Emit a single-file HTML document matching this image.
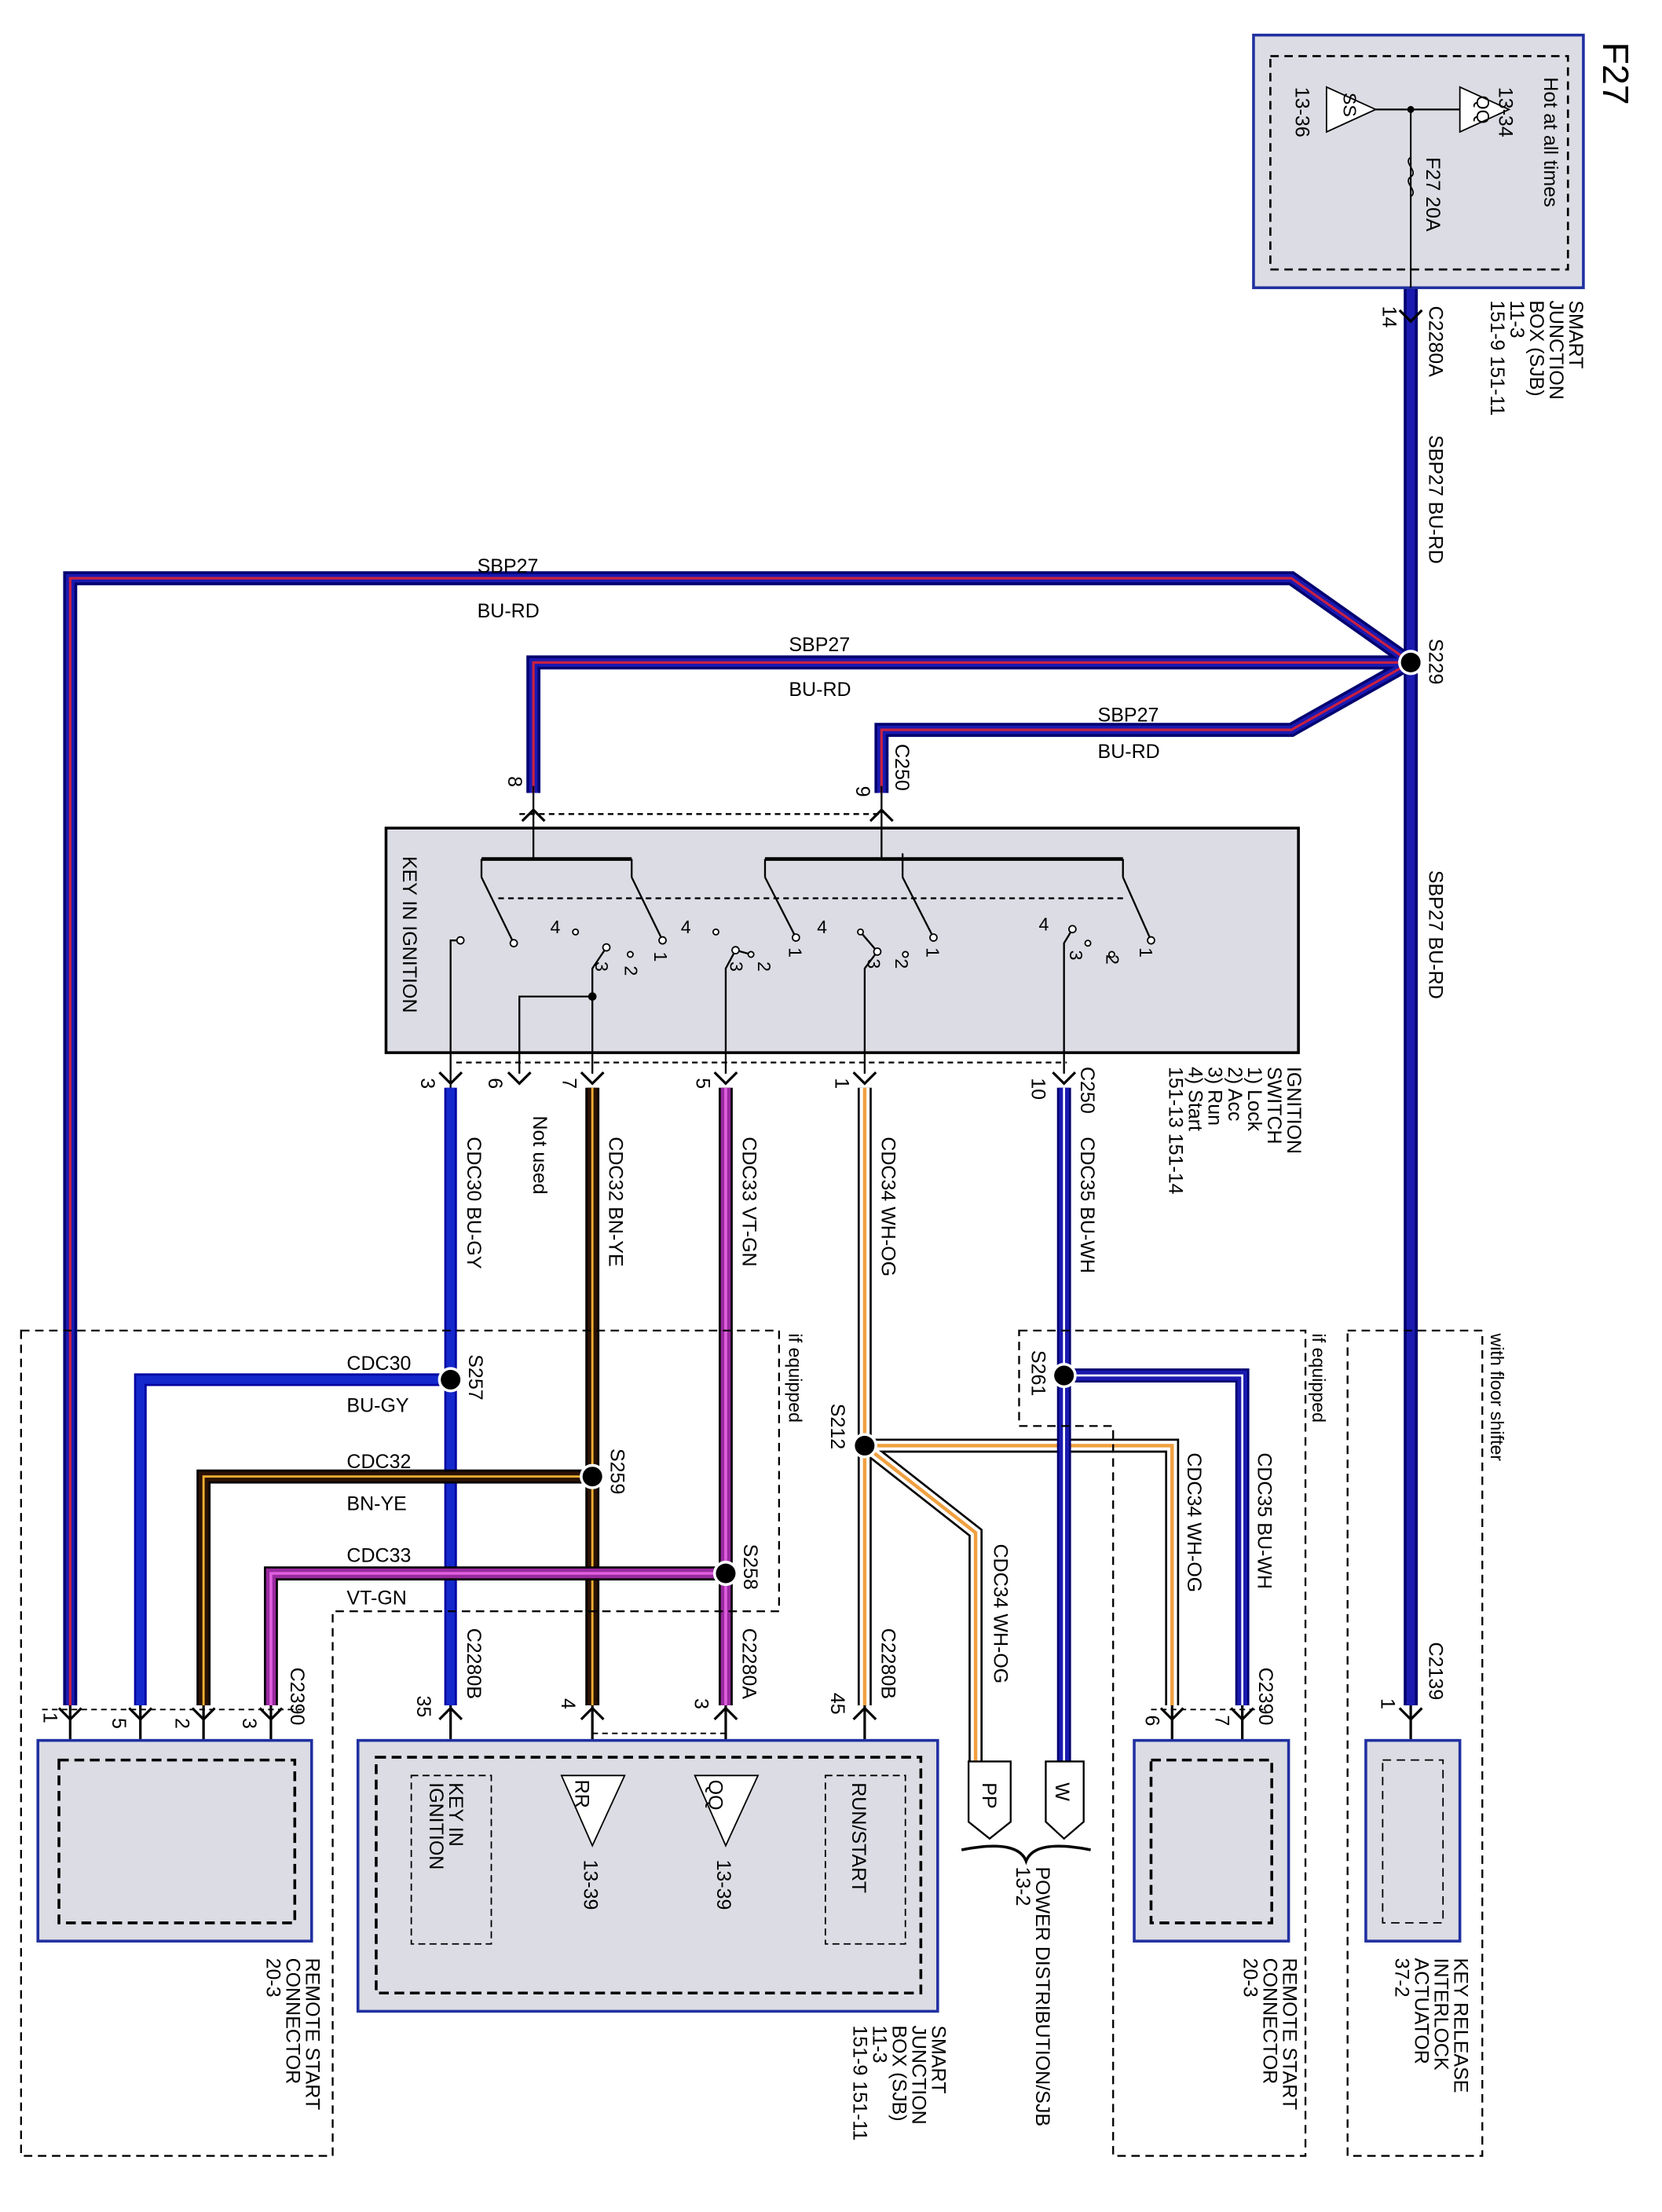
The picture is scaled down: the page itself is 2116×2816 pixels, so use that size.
<!DOCTYPE html>
<html><head><meta charset="utf-8"><style>
html,body{margin:0;padding:0;background:#fff}
svg{display:block}
text{font-family:"Liberation Sans",sans-serif;fill:#000}
</style></head><body>
<svg width="2116" height="2816" viewBox="0 0 1184 1576" preserveAspectRatio="none" xmlns="http://www.w3.org/2000/svg">
<defs>
<path id="wA" d="M1005,205 V1215"/>
<path id="wB" d="M1005,472 L920,412 H50 V1215"/>
<path id="wC" d="M1005,472 H380 V565"/>
<path id="wD" d="M1005,472 L920,520 H628 V565"/>
<path id="w30" d="M321,775 V1215"/>
<path id="w30b" d="M321,983 H100 V1215"/>
<path id="w32" d="M422,775 V1215"/>
<path id="w32b" d="M422,1052 H145 V1215"/>
<path id="w33" d="M517,775 V1215"/>
<path id="w33b" d="M517,1121 H193 V1215"/>
<path id="w34" d="M616,775 V1215"/>
<path id="w34b" d="M616,1030 H835 V1215"/>
<path id="w34c" d="M616,1030 L695,1092 V1255"/>
<path id="w35" d="M758,775 V1255"/>
<path id="w35b" d="M758,980 H885 V1215"/>
</defs>
<g fill="none" stroke-linejoin="miter">
<!-- BU-RD -->
<g stroke="#000070" stroke-width="10"><use href="#wA"/><use href="#wB"/><use href="#wC"/><use href="#wD"/></g>
<g stroke="#1a1ab0" stroke-width="6"><use href="#wA"/><use href="#wB"/><use href="#wC"/><use href="#wD"/></g>
<g stroke="#c82040" stroke-width="1.8"><use href="#wB"/><use href="#wC"/><use href="#wD"/></g>
<!-- BU-GY -->
<g stroke="#0000a0" stroke-width="9"><use href="#w30"/><use href="#w30b"/></g>
<g stroke="#1428cc" stroke-width="6"><use href="#w30"/><use href="#w30b"/></g>
<!-- BN-YE -->
<g stroke="#000" stroke-width="10"><use href="#w32"/><use href="#w32b"/></g>
<g stroke="#2a1206" stroke-width="7"><use href="#w32"/><use href="#w32b"/></g>
<g stroke="#f0b030" stroke-width="1.6"><use href="#w32"/><use href="#w32b"/></g>
<!-- VT-GN -->
<g stroke="#000" stroke-width="10"><use href="#w33"/><use href="#w33b"/></g>
<g stroke="#9a2aa0" stroke-width="7"><use href="#w33"/><use href="#w33b"/></g>
<g stroke="#e060e0" stroke-width="2"><use href="#w33"/><use href="#w33b"/></g>
<!-- WH-OG -->
<g stroke="#000" stroke-width="10"><use href="#w34"/><use href="#w34b"/><use href="#w34c"/></g>
<g stroke="#fff" stroke-width="7"><use href="#w34"/><use href="#w34b"/><use href="#w34c"/></g>
<g stroke="#f0a040" stroke-width="2.5"><use href="#w34"/><use href="#w34b"/><use href="#w34c"/></g>
<!-- BU-WH -->
<g stroke="#000070" stroke-width="10"><use href="#w35"/><use href="#w35b"/></g>
<g stroke="#1a1ab0" stroke-width="7"><use href="#w35"/><use href="#w35b"/></g>
<g stroke="#fff" stroke-width="1.5"><use href="#w35"/><use href="#w35b"/></g>
</g>

<!-- top SJB box -->
<rect x="893" y="25" width="235" height="180" fill="#dcdce4" stroke="#2030a0" stroke-width="2"/>
<rect x="905" y="40" width="212" height="152" fill="none" stroke="#000" stroke-width="1.5" stroke-dasharray="6,4"/>
<path d="M1005,78 V205 M962,78 H1048" stroke="#000" stroke-width="1.2" fill="none"/>
<circle cx="1005" cy="78" r="2.5" fill="#000"/>
<path d="M1040,62 L1075,78 L1040,94 Z M945,62 L980,78 L945,94 Z" fill="#fff" stroke="#000"/>
<path d="M1005,112 c-6,4 6,10 0,14 c-6,4 6,10 0,14" fill="none" stroke="#000"/>
<text transform="translate(1100,55) rotate(90)" font-size="14">Hot at all times</text>
<text transform="translate(1068,62) rotate(90)" font-size="14">13-34</text>
<text transform="translate(1052,68) rotate(90)" font-size="13">QQ</text>
<text transform="translate(957,66) rotate(90)" font-size="13">SS</text>
<text transform="translate(923,62) rotate(90)" font-size="14">13-36</text>
<text transform="translate(1016,112) rotate(90)" font-size="14">F27  20A</text>
<text transform="translate(1142,30) rotate(90)" font-size="26">F27</text>
<text transform="translate(1118,214) rotate(90)" font-size="14">SMART</text>
<text transform="translate(1104,214) rotate(90)" font-size="14">JUNCTION</text>
<text transform="translate(1090,214) rotate(90)" font-size="14">BOX (SJB)</text>
<text transform="translate(1076,214) rotate(90)" font-size="14">11-3</text>
<text transform="translate(1062,214) rotate(90)" font-size="14">151-9     151-11</text>
<text transform="translate(1018,218) rotate(90)" font-size="14">C2280A</text>
<text transform="translate(985,218) rotate(90)" font-size="14">14</text>
<text transform="translate(1018,310) rotate(90)" font-size="14">SBP27    BU-RD</text>
<text transform="translate(1018,455) rotate(90)" font-size="14">S229</text>
<text transform="translate(1018,620) rotate(90)" font-size="14">SBP27    BU-RD</text>
<circle cx="1005" cy="472" r="9" fill="#fff"/>
<circle cx="1005" cy="472" r="7" fill="#000"/>

<text x="340" y="408" font-size="14">SBP27</text><text x="340" y="440" font-size="14">BU-RD</text>
<text x="562" y="464" font-size="14">SBP27</text><text x="562" y="496" font-size="14">BU-RD</text>
<text x="782" y="514" font-size="14">SBP27</text><text x="782" y="540" font-size="14">BU-RD</text>

<!-- ignition box -->
<rect x="275" y="590" width="650" height="160" fill="#dcdce4" stroke="#000" stroke-width="2"/>
<path d="M380,560 V612 M628,560 V612" stroke="#000" stroke-width="1.3" fill="none"/>
<path d="M343,612 H450 M545,612 H800" stroke="#000" stroke-width="2.6" fill="none"/>
<path d="M343,612 V625 M450,612 V625 M545,612 V625 M800,612 V625 M643,608 V625" stroke="#000" stroke-width="1.3" fill="none"/>
<path d="M355,640 H800 M370,580 H628" stroke="#000" stroke-dasharray="4,3" fill="none" stroke-width="1.3"/>
<path d="M325,757 H760" stroke="#000" stroke-dasharray="4,3" fill="none" stroke-width="1.3"/>
<g stroke="#000" stroke-width="1.3" fill="none">
<path d="M343,625 L366,672 M450,625 L472,670 M545,625 L567,668 M643,625 L665,668 M800,625 L820,670"/>
<path d="M321,775 V670 H328 M370,765 V710 H422 M422,765 V690 L432,675 M517,765 V690 L524,677 L535,680 M616,765 V690 L625,678 L613,664 M758,765 V672 L764,662"/>
</g>
<g fill="#fff" stroke="#000">
<circle cx="328" cy="670" r="2.5"/><circle cx="366" cy="672" r="2.5"/><circle cx="472" cy="670" r="2.5"/><circle cx="567" cy="668" r="2.5"/><circle cx="665" cy="668" r="2.5"/><circle cx="820" cy="670" r="2.5"/><circle cx="432" cy="675" r="2.5"/><circle cx="524" cy="677" r="2.5"/><circle cx="625" cy="678" r="2.5"/><circle cx="764" cy="662" r="2.5"/><circle cx="410" cy="664" r="2"/><circle cx="510" cy="664" r="2"/><circle cx="613" cy="664" r="2"/><circle cx="449" cy="680" r="2"/><circle cx="535" cy="680" r="2"/><circle cx="645" cy="680" r="2"/><circle cx="792" cy="680" r="2"/><circle cx="775" cy="672" r="2"/>
</g>
<circle cx="422" cy="710" r="3" fill="#000"/>
<text transform="translate(287,610) rotate(90)" font-size="14">KEY IN IGNITION</text>
<g font-size="13">
<text x="392" y="665">4</text><text x="485" y="665">4</text><text x="582" y="665">4</text><text x="740" y="663">4</text>
<text transform="translate(424,685) rotate(90)">3</text><text transform="translate(520,685) rotate(90)">3</text><text transform="translate(618,683) rotate(90)">3</text><text transform="translate(762,677) rotate(90)">3</text>
<text transform="translate(445,688) rotate(90)">2</text><text transform="translate(540,685) rotate(90)">2</text><text transform="translate(638,683) rotate(90)">2</text><text transform="translate(788,680) rotate(90)">2</text>
<text transform="translate(466,678) rotate(90)">1</text><text transform="translate(562,675) rotate(90)">1</text><text transform="translate(660,675) rotate(90)">1</text><text transform="translate(812,675) rotate(90)">1</text>
</g>
<text transform="translate(362,553) rotate(90)" font-size="14">8</text>
<text transform="translate(610,560) rotate(90)" font-size="14">9</text>
<text transform="translate(638,530) rotate(90)" font-size="14">C250</text>
<g font-size="14">
<text transform="translate(917,760) rotate(90)">IGNITION</text>
<text transform="translate(903,760) rotate(90)">SWITCH</text>
<text transform="translate(889,760) rotate(90)">1) Lock</text>
<text transform="translate(875,760) rotate(90)">2) Acc</text>
<text transform="translate(861,760) rotate(90)">3) Run</text>
<text transform="translate(847,760) rotate(90)">4) Start</text>
<text transform="translate(833,760) rotate(90)">151-13     151-14</text>
<text transform="translate(770,760) rotate(90)">C250</text>
<text transform="translate(300,768) rotate(90)">3</text>
<text transform="translate(348,768) rotate(90)">6</text>
<text transform="translate(401,768) rotate(90)">7</text>
<text transform="translate(496,768) rotate(90)">5</text>
<text transform="translate(595,768) rotate(90)">1</text>
<text transform="translate(735,768) rotate(90)">10</text>
<text transform="translate(333,810) rotate(90)">CDC30   BU-GY</text>
<text transform="translate(380,795) rotate(90)">Not used</text>
<text transform="translate(434,810) rotate(90)">CDC32   BN-YE</text>
<text transform="translate(529,810) rotate(90)">CDC33   VT-GN</text>
<text transform="translate(628,810) rotate(90)">CDC34   WH-OG</text>
<text transform="translate(770,810) rotate(90)">CDC35   BU-WH</text>
</g>
<!-- dashed regions -->
<g fill="none" stroke="#000" stroke-dasharray="6,4" stroke-width="1.3">
<path d="M15,948 H555 V1148 H237 V1536 H15 Z"/>
<path d="M726,948 H930 V1536 H793 V1016 H726 Z"/>
<rect x="960" y="948" width="96" height="588"/>
</g>
<text transform="translate(562,950) rotate(90)" font-size="13">if equipped</text>
<text transform="translate(935,950) rotate(90)" font-size="13">if equipped</text>
<text transform="translate(1062,950) rotate(90)" font-size="13">with floor shifter</text>
<!-- splices -->
<g fill="#fff"><circle cx="321" cy="983" r="9"/><circle cx="422" cy="1052" r="9"/><circle cx="517" cy="1121" r="9"/><circle cx="616" cy="1030" r="9"/><circle cx="758" cy="980" r="9"/></g>
<g fill="#000"><circle cx="321" cy="983" r="7"/><circle cx="422" cy="1052" r="7"/><circle cx="517" cy="1121" r="7"/><circle cx="616" cy="1030" r="7"/><circle cx="758" cy="980" r="7"/></g>
<g font-size="14">
<text transform="translate(334,965) rotate(90)">S257</text>
<text transform="translate(435,1032) rotate(90)">S259</text>
<text transform="translate(530,1100) rotate(90)">S258</text>
<text transform="translate(592,1000) rotate(90)">S212</text>
<text transform="translate(735,962) rotate(90)">S261</text>
<text x="247" y="976">CDC30</text><text x="247" y="1006">BU-GY</text>
<text x="247" y="1046">CDC32</text><text x="247" y="1076">BN-YE</text>
<text x="247" y="1113">CDC33</text><text x="247" y="1143">VT-GN</text>
<text transform="translate(846,1035) rotate(90)">CDC34   WH-OG</text>
<text transform="translate(896,1035) rotate(90)">CDC35   BU-WH</text>
<text transform="translate(708,1100) rotate(90)">CDC34   WH-OG</text>
<text transform="translate(333,1160) rotate(90)">C2280B</text>
<text transform="translate(529,1160) rotate(90)">C2280A</text>
<text transform="translate(628,1160) rotate(90)">C2280B</text>
<text transform="translate(207,1188) rotate(90)">C2390</text>
<text transform="translate(897,1188) rotate(90)">C2390</text>
<text transform="translate(1018,1170) rotate(90)">C2139</text>
<text transform="translate(297,1208) rotate(90)">35</text>
<text transform="translate(400,1210) rotate(90)">4</text>
<text transform="translate(495,1210) rotate(90)">3</text>
<text transform="translate(592,1206) rotate(90)">45</text>
<text transform="translate(31,1220) rotate(90)">1</text>
<text transform="translate(80,1224) rotate(90)">5</text>
<text transform="translate(125,1224) rotate(90)">2</text>
<text transform="translate(173,1224) rotate(90)">3</text>
<text transform="translate(816,1222) rotate(90)">6</text>
<text transform="translate(866,1222) rotate(90)">7</text>
<text transform="translate(984,1210) rotate(90)">1</text>
</g>
<!-- connector chevrons -->
<g fill="none" stroke="#000" stroke-width="1.8">
<path d="M372,585 L380,577 L388,585 M620,585 L628,577 L636,585"/>
<path d="M313,764 L321,772 L329,764 M362,764 L370,772 L378,764 M414,764 L422,772 L430,764 M509,764 L517,772 L525,764 M608,764 L616,772 L624,764 M750,764 L758,772 L766,764"/>
<path d="M997,221 L1005,229 L1013,221"/>
<path d="M42,1217 L50,1225 L58,1217 M92,1217 L100,1225 L108,1217 M137,1217 L145,1225 L153,1217 M185,1217 L193,1225 L201,1217"/>
<path d="M313,1225 L321,1217 L329,1225 M414,1225 L422,1217 L430,1225 M509,1225 L517,1217 L525,1225 M608,1225 L616,1217 L624,1225"/>
<path d="M827,1217 L835,1225 L843,1217 M877,1217 L885,1225 L893,1217 M997,1217 L1005,1225 L1013,1217"/>
<path d="M50,1215 V1240 M100,1215 V1240 M145,1215 V1240 M193,1215 V1240 M321,1215 V1265 M422,1215 V1265 M517,1215 V1265 M616,1215 V1265 M835,1215 V1240 M885,1215 V1240 M1005,1215 V1240"/>
</g>
<path d="M30,1218 H215 M422,1235 H517 M820,1218 H900" stroke="#000" stroke-dasharray="4,3" fill="none"/>
<!-- bottom boxes -->
<rect x="27" y="1240" width="195" height="143" fill="#dcdce4" stroke="#2030a0" stroke-width="2"/>
<rect x="42" y="1254" width="168" height="116" fill="none" stroke="#000" stroke-width="2" stroke-dasharray="7,4"/>
<rect x="255" y="1240" width="413" height="193" fill="#dcdce4" stroke="#2030a0" stroke-width="2"/>
<rect x="268" y="1252" width="388" height="168" fill="none" stroke="#000" stroke-width="2" stroke-dasharray="7,4"/>
<rect x="293" y="1265" width="57" height="120" fill="none" stroke="#000" stroke-dasharray="5,3"/>
<rect x="588" y="1265" width="57" height="120" fill="none" stroke="#000" stroke-dasharray="5,3"/>
<path d="M400,1265 H445 L422,1315 Z M495,1265 H540 L517,1315 Z" fill="#fff" stroke="#000"/>
<rect x="808" y="1240" width="110" height="143" fill="#dcdce4" stroke="#2030a0" stroke-width="2"/>
<rect x="820" y="1254" width="86" height="116" fill="none" stroke="#000" stroke-width="2" stroke-dasharray="7,4"/>
<rect x="973" y="1240" width="67" height="143" fill="#dcdce4" stroke="#2030a0" stroke-width="2"/>
<rect x="985" y="1254" width="43" height="116" fill="none" stroke="#000" stroke-dasharray="6,4"/>
<path d="M690,1255 H720 V1298 L705,1310 L690,1298 Z M745,1255 H772 V1298 L758,1310 L745,1298 Z" fill="#fff" stroke="#000" stroke-width="1.3"/>
<path d="M685,1318 q40,-8 46,8 q6,-16 46,-8" fill="none" stroke="#000" stroke-width="2"/>
<g font-size="14">
<text transform="translate(700,1270) rotate(90)">PP</text>
<text transform="translate(752,1270) rotate(90)">W</text>
<text transform="translate(738,1330) rotate(90)">POWER DISTRIBUTION/SJB</text>
<text transform="translate(724,1330) rotate(90)">13-2</text>
<text transform="translate(320,1270) rotate(90)">KEY IN</text>
<text transform="translate(306,1270) rotate(90)">IGNITION</text>
<text transform="translate(607,1270) rotate(90)">RUN/START</text>
<text transform="translate(410,1268) rotate(90)">RR</text>
<text transform="translate(505,1268) rotate(90)">QQ</text>
<text transform="translate(416,1325) rotate(90)">13-39</text>
<text transform="translate(511,1325) rotate(90)">13-39</text>
<text transform="translate(218,1395) rotate(90)">REMOTE START</text>
<text transform="translate(204,1395) rotate(90)">CONNECTOR</text>
<text transform="translate(190,1395) rotate(90)">20-3</text>
<text transform="translate(664,1443) rotate(90)">SMART</text>
<text transform="translate(650,1443) rotate(90)">JUNCTION</text>
<text transform="translate(636,1443) rotate(90)">BOX (SJB)</text>
<text transform="translate(622,1443) rotate(90)">11-3</text>
<text transform="translate(608,1443) rotate(90)">151-9     151-11</text>
<text transform="translate(914,1395) rotate(90)">REMOTE START</text>
<text transform="translate(900,1395) rotate(90)">CONNECTOR</text>
<text transform="translate(886,1395) rotate(90)">20-3</text>
<text transform="translate(1036,1395) rotate(90)">KEY RELEASE</text>
<text transform="translate(1022,1395) rotate(90)">INTERLOCK</text>
<text transform="translate(1008,1395) rotate(90)">ACTUATOR</text>
<text transform="translate(994,1395) rotate(90)">37-2</text>
</g>
</svg>
</body></html>
